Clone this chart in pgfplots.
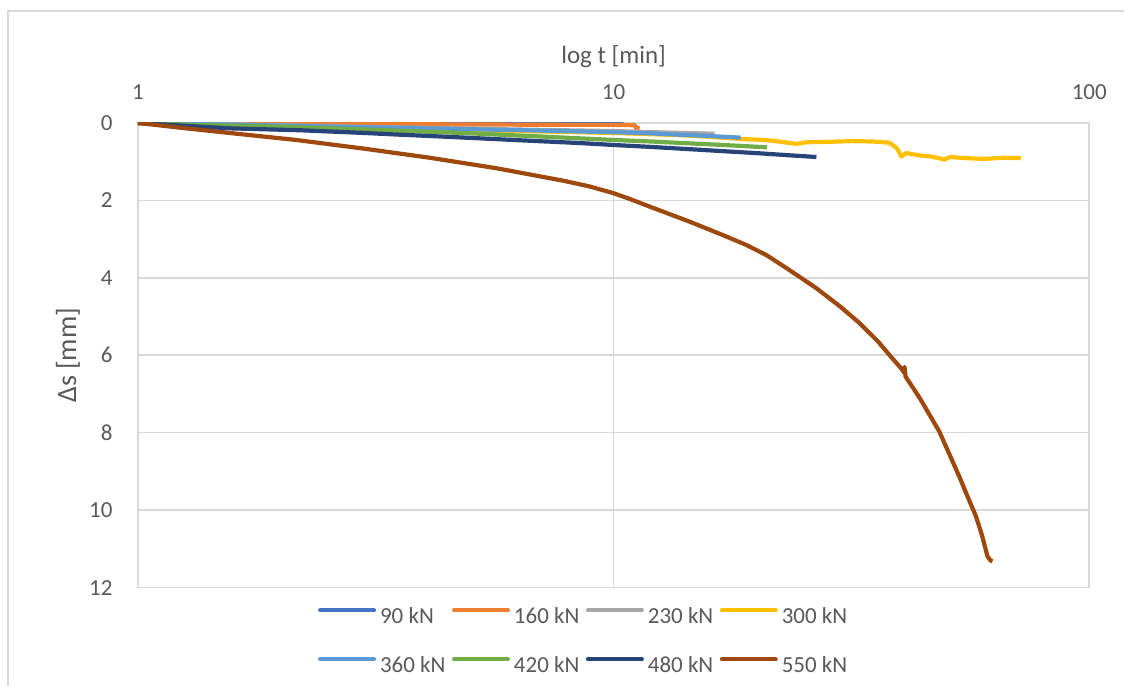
\documentclass[border=0pt]{standalone}
\usepackage{pgfplots}
\pgfplotsset{compat=1.18}
\usepackage{fontspec}
\setmainfont{Carlito}
\definecolor{c1}{HTML}{4472C4}
\definecolor{c2}{HTML}{ED7D31}
\definecolor{c3}{HTML}{A5A5A5}
\definecolor{c4}{HTML}{FFC000}
\definecolor{c5}{HTML}{5B9BD5}
\definecolor{c6}{HTML}{70AD47}
\definecolor{c7}{HTML}{264478}
\definecolor{c8}{HTML}{9E480E}
\definecolor{gridc}{HTML}{D9D9D9}
\definecolor{txt}{HTML}{595959}
\begin{document}
\begin{tikzpicture}
\path (0,0) rectangle (562.5pt,343pt);
\draw[gridc, line width=0.8pt] (4pt,0pt) -- (4pt,337.5pt) -- (562.5pt,337.5pt);
\begin{axis}[
  at={(69pt,49pt)}, anchor=south west,
  scale only axis, width=476pt, height=232.5pt,
  xmode=log, xmin=1, xmax=100,
  ymin=0, ymax=12, y dir=reverse,
  xtick={1,10,100}, xticklabels={1,10,100},
  xminorticks=false, yminorticks=false,
  ytick={0,2,4,6,8,10,12},
  major tick length=0pt,
  xticklabel pos=upper,
  grid=major,
  major grid style={gridc, line width=0.8pt},
  axis line style={gridc, line width=0.8pt},
  tick label style={font=\fontsize{11.5}{13}\selectfont, text=txt, inner sep=0pt},
  /pgf/number format/assume math mode=true,
  xticklabel style={anchor=south, yshift=11.5pt},
  yticklabel style={anchor=east, xshift=-12.5pt},
  xlabel={log t [min]},
  xlabel style={at={(axis description cs:0.5,1.142)}, anchor=center, font=\fontsize{12.5}{14}\selectfont, text=txt},
  ylabel={Δs [mm]},
  ylabel style={at={(axis description cs:-0.0735,0.5)}, anchor=center, font=\fontsize{14}{16}\selectfont, text=txt},
  legend columns=4,
  legend style={at={(axis description cs:0.189,-0.043)}, anchor=north west, draw=none, fill=none, inner sep=0pt,
    column sep=2pt, row sep=15pt, font=\fontsize{11.5}{13}\selectfont, text=txt,
    nodes={inner sep=0pt}},
  legend image code/.code={\draw[#1, line width=2pt, line cap=round] (0pt,3.5pt) -- (27pt,3.5pt);},
  every axis plot/.append style={line width=2.1pt, line join=round},
]
\addplot[c1] coordinates {(1,0) (2,0.01) (5,0.015) (10.5,0.02)};
\addlegendentry{\makebox[34pt][l]{90 kN}}
\addplot[c2] coordinates {(1,0) (2,0.02) (5,0.04) (8,0.05) (10,0.05) (11.1,0.06) (11.2,0.22) (11.25,0.08)};
\addlegendentry{\makebox[34pt][l]{160 kN}}
\addplot[c3] coordinates {(1,0) (1.5,0.03) (2,0.06) (3,0.1) (5,0.15) (7,0.18) (10,0.21) (13,0.25) (16.3,0.28)};
\addlegendentry{\makebox[34pt][l]{230 kN}}
\addplot[c4] coordinates {(1,0) (1.5,0.06) (2,0.12) (3,0.15) (4,0.18) (7,0.22) (10,0.26) (14,0.32) (17,0.38) (18.7,0.42) (20,0.43) (21.6,0.46) (24.2,0.54) (25.4,0.5) (28,0.49) (31.8,0.47) (35,0.48) (38,0.51) (39.4,0.65) (40.3,0.87) (41.2,0.78) (44,0.84) (46,0.86) (48.4,0.91) (49.5,0.95) (51,0.88) (55,0.91) (60,0.93) (66,0.9) (71.8,0.91)};
\addlegendentry{\makebox[34pt][l]{300 kN}}
\addplot[c5] coordinates {(1,0) (1.5,0.04) (2,0.07) (3.5,0.13) (6,0.18) (10,0.24) (12,0.27) (14,0.31) (16,0.34) (18.5,0.38)};
\addlegendentry{\makebox[34pt][l]{360 kN}}
\addplot[c6] coordinates {(1,0) (1.3,0.05) (2,0.1) (3,0.17) (4.8,0.26) (7,0.35) (10,0.44) (12,0.48) (14,0.52) (17,0.57) (21,0.63)};
\addlegendentry{\makebox[34pt][l]{420 kN}}
\addplot[c7] coordinates {(1,0) (1.2,0.06) (1.56,0.14) (2.2,0.19) (3,0.26) (3.5,0.3) (4.5,0.36) (6.66,0.46) (8.5,0.52) (10,0.57) (12,0.62) (15,0.69) (17,0.73) (20,0.78) (23,0.83) (26.7,0.88)};
\addlegendentry{\makebox[34pt][l]{480 kN}}
\addplot[c8] coordinates {(1,0) (1.22,0.12) (1.56,0.26) (2.15,0.44) (2.97,0.66) (4.11,0.9) (5.67,1.17) (7.82,1.49) (8.9,1.64) (9.97,1.81) (10.8,1.96) (11.9,2.16) (14.45,2.55) (17,2.9) (19,3.15) (21,3.42) (23.1,3.75) (26.7,4.27) (30,4.75) (32.9,5.17) (36,5.65) (38,5.99) (40.3,6.35) (40.8,6.45) (40.9,6.3) (41.1,6.55) (44,7.1) (48.4,7.97) (51,8.6) (53.3,9.13) (55.5,9.65) (57.8,10.16) (59.5,10.65) (61.1,11.19) (62,11.3) (62.6,11.32)};
\addlegendentry{\makebox[34pt][l]{550 kN}}
\end{axis}
\end{tikzpicture}
\end{document}
